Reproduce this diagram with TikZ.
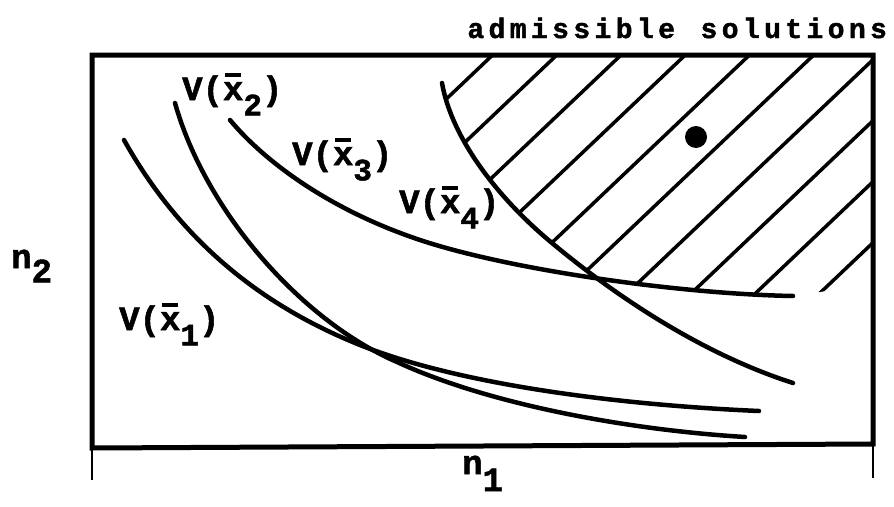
\documentclass[tikz,border=0pt]{standalone}
\usepackage{fontspec}
\usepackage{graphicx}
\newfontfamily\tw{Liberation Mono}[BoldFeatures={FakeBold=1.6}]
\newcommand\xbar{\rlap{\hbox to 0.6em{\hss\rule[0.68em]{0.48em}{0.1em}\hss}}x}
\newcommand\Vx[1]{V(\xbar\raisebox{-0.45em}{\fontsize{31}{33}\selectfont #1})}
\def\spaced#1{\spacedi#1\relax}
\def\spacedi#1{\ifx#1\relax\else\makebox[21.2pt]{#1}\expandafter\spacedi\fi}
\begin{document}
\begin{tikzpicture}[x=1pt,y=-1pt,
  frame/.style={line width=5pt, line join=miter},
  curve/.style={line width=4.5pt, line cap=round, line join=round},
  hatch/.style={line width=3.5pt},
  tick/.style={line width=1.5pt},
  lbl/.style={inner sep=0pt, anchor=base west, font=\tw\bfseries\fontsize{34}{36}\selectfont}]
\useasboundingbox (0,0) rectangle (894,506);

% hatching of the admissible region
\begin{scope}
  \clip (442,55) -- (442,83) .. controls (452,140) and (500,200) .. (552,243)
        .. controls (600,283) and (690,350) .. (793,383) -- (900,383) -- (900,55) -- cycle;
  \clip (230,55) -- (230,120) .. controls (265,162) and (330,210) .. (420,240)
        .. controls (510,270) and (680,294) .. (793,296) -- (873,284) -- (873,55) -- cycle;
  \foreach \c in {523,584,...,1080} {
    \draw[hatch] (400,{\c-380}) -- (900,{\c-855});
  }
\end{scope}

% frame and ticks
\draw[frame] (92,55) -- (873,55) -- (873,444) -- (92,448) -- cycle;
\draw[tick] (92,448) -- (92,480);
\draw[tick] (873,444) -- (873,478);

% curves V(x1) .. V(x4)
\draw[curve] (124,140) .. controls (180,240) and (260,305) .. (360,345)
             .. controls (460,385) and (620,405) .. (759,411);
\draw[curve] (175,103) .. controls (205,210) and (300,320) .. (397,362)
             .. controls (490,405) and (630,430) .. (745,437);
\draw[curve] (230,120) .. controls (265,162) and (330,210) .. (420,240)
             .. controls (510,270) and (680,294) .. (793,296);
\draw[curve] (442,83) .. controls (452,140) and (500,200) .. (552,243)
             .. controls (600,283) and (690,350) .. (793,383);

% admissible point
\fill (696,137) circle[radius=11];

% labels
\node[lbl] (v1) at (119,330) {\Vx{1}};
\node[lbl] (v2) at (182,100) {\Vx{2}};
\node[lbl] (v3) at (292,165) {\Vx{3}};
\node[lbl] (v4) at (399,213) {\Vx{4}};
\node[lbl] (n2) at (11,268) {n\raisebox{-0.42em}{2}};
\node[lbl] (n1) at (462,474) {n\raisebox{-0.5em}{1}};
\node[inner sep=0pt, anchor=base west, font=\tw\bfseries\fontsize{28}{30}\selectfont] (adm) at (465,38) {\spaced{admissible\ solutions}};
\end{tikzpicture}
\end{document}
